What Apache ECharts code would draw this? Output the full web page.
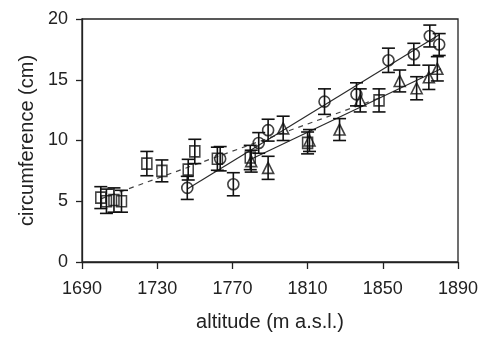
<!DOCTYPE html>
<html>
<head>
<meta charset="utf-8">
<script src="https://cdn.jsdelivr.net/npm/echarts@6/dist/echarts.min.js"></script>
<style>
  html, body { margin: 0; padding: 0; background: #fff; }
  #chart { width: 484px; height: 337px; }
</style>
</head>
<body>
<div id="chart"></div>
<script>
// [altitude, circumference, error]
const squares = [
  [1700, 5.3, 0.9], [1703, 5.0, 1.0], [1707, 5.1, 1.0], [1711, 5.0, 0.9],
  [1724.5, 8.1, 1.0], [1732.5, 7.5, 0.9], [1746.5, 7.6, 0.85], [1750, 9.1, 1.0],
  [1762, 8.5, 0.95], [1779.5, 8.6, 1.0], [1810, 9.8, 0.9], [1848, 13.3, 0.95]
];
const circles = [
  [1746, 6.1, 0.95], [1763.5, 8.5, 1.0], [1770.5, 6.4, 0.95], [1784, 9.8, 0.85],
  [1789, 10.85, 0.9], [1819, 13.2, 1.05], [1836, 13.8, 0.95], [1853, 16.6, 1.0],
  [1866.5, 17.1, 0.9], [1875, 18.6, 0.9], [1880, 17.9, 0.9]
];
const triangles = [
  [1780, 8.3, 0.9], [1789, 7.75, 0.95], [1797, 11.0, 1.0], [1811, 10.0, 0.9],
  [1827, 10.9, 0.9], [1838, 13.3, 0.95], [1859, 14.9, 0.9], [1868, 14.3, 0.95],
  [1874.5, 15.2, 1.0], [1879, 15.9, 1.0]
];
// fitted lines (start, end)
const squareFit = [[1700, 5.2], [1850, 13.6]];
const circleFit = [[1746, 6.0], [1880, 18.7]];
const triangleFit = [[1779, 8.4], [1881, 15.9]];

const xTicks = [1690, 1890, 40];
const yTicks = [0, 20, 5];

const font = "'Liberation Sans', Arial, sans-serif";

const errorBars = (data) => ({
  type: "custom",
  data: data,
  z: 3,
  renderItem: (params, api) => {
    const x = api.value(0), y = api.value(1), e = api.value(2);
    const top = api.coord([x, y + e]);
    const bot = api.coord([x, y - e]);
    const w = 6.5;
    const style = { stroke: "#111", lineWidth: 1.6 };
    return {
      type: "group",
      children: [
        { type: "line", shape: { x1: top[0], y1: top[1], x2: bot[0], y2: bot[1] }, style },
        { type: "line", shape: { x1: top[0] - w, y1: top[1], x2: top[0] + w, y2: top[1] }, style },
        { type: "line", shape: { x1: bot[0] - w, y1: bot[1], x2: bot[0] + w, y2: bot[1] }, style },
      ],
    };
  },
});

const markers = (data, symbol, size) => ({
  type: "scatter",
  data: data.map((d) => [d[0], d[1]]),
  symbol: symbol,
  symbolSize: size,
  z: 4,
  itemStyle: { color: "transparent", borderColor: "#111", borderWidth: 1.6 },
});

const fitLine = (data, dashed) => ({
  type: "line",
  data: data,
  symbol: "none",
  z: 2,
  lineStyle: {
    color: dashed ? "#444" : "#2a2a2a",
    width: 1.2,
    type: dashed ? [5, 5] : "solid",
  },
});

const chart = echarts.init(document.getElementById("chart"));
chart.setOption({
  animation: false,
  grid: {
    left: 82, right: 26, top: 19, bottom: 72,
    show: true, borderColor: "#222", borderWidth: 1.3,
  },
  xAxis: {
    type: "value",
    min: xTicks[0], max: xTicks[1], interval: xTicks[2],
    name: "altitude (m a.s.l.)",
    nameLocation: "middle",
    nameGap: 50,
    nameTextStyle: { fontFamily: font, fontSize: 20, color: "#222" },
    axisLine: { lineStyle: { color: "#222", width: 1.3 } },
    axisTick: { length: 7, lineStyle: { color: "#222", width: 1.3 } },
    axisLabel: {
      margin: 18, fontFamily: font, fontSize: 18, color: "#222",
      formatter: (v) => String(v),
    },
    splitLine: { show: false },
  },
  yAxis: {
    type: "value",
    min: yTicks[0], max: yTicks[1], interval: yTicks[2],
    name: "circumference (cm)",
    nameLocation: "middle",
    nameGap: 44,
    nameTextStyle: { fontFamily: font, fontSize: 20, color: "#222" },
    axisLine: { lineStyle: { color: "#222", width: 1.3 } },
    axisTick: { length: 6, lineStyle: { color: "#222", width: 1.3 } },
    axisLabel: { margin: 14, fontFamily: font, fontSize: 18, color: "#222" },
    splitLine: { show: false },
  },
  series: [
    fitLine(squareFit, true),
    fitLine(circleFit, false),
    fitLine(triangleFit, false),
    errorBars(squares),
    errorBars(circles),
    errorBars(triangles),
    markers(squares, "rect", [10, 11]),
    markers(circles, "circle", 11),
    markers(triangles, "triangle", 11),
  ],
});
</script>
</body>
</html>
